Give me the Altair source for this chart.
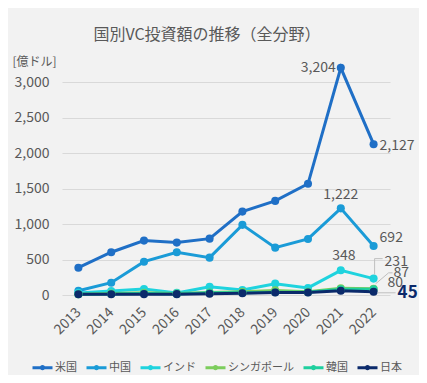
import altair as alt
import pandas as pd

years = ["2013", "2014", "2015", "2016", "2017", "2018", "2019", "2020", "2021", "2022"]
countries = ["米国", "中国", "インド", "シンガポール", "韓国", "日本"]
colors = ["#1f6fc6", "#1a9bd7", "#1fd3de", "#7ccd5c", "#1fcf9e", "#0b2a6b"]

us = [385, 603, 767, 739, 795, 1176, 1327, 1568, 3204, 2127]
china = [61, 174, 470, 603, 527, 989, 668, 791, 1222, 692]
india = [30, 55, 85, 30, 117, 70, 160, 100, 348, 231]
singapore = [10, 20, 30, 20, 35, 45, 65, 45, 95, 87]
korea = [10, 15, 20, 15, 30, 30, 40, 40, 80, 80]
japan = [10, 10, 12, 12, 18, 25, 35, 35, 60, 45]

series = [us, china, india, singapore, korea, japan]
rows = []
for c, vals in zip(countries, series):
    for y, v in zip(years, vals):
        rows.append({"country": c, "year": y, "value": v})
df = pd.DataFrame(rows)

FONT = "Noto Sans CJK JP"
GREY = "#595959"
LEAD = "#bfbfbf"

x = alt.X("year:N", sort=years, title=None,
          scale=alt.Scale(type="point", padding=0.5),
          axis=alt.Axis(labelAngle=-45, labelAlign="right", labelBaseline="middle",
                        labelPadding=15, labelFontSize=14, labelColor=GREY, labelFont=FONT,
                        domain=False, ticks=False, grid=False))
y = alt.Y("value:Q", scale=alt.Scale(domain=[0, 3300], nice=False),
          axis=alt.Axis(values=[0, 500, 1000, 1500, 2000, 2500, 3000], format=",.0f",
                        labelFontSize=14, labelColor=GREY, labelFont=FONT, labelPadding=13,
                        domain=False, ticks=False, gridColor="#d9d9d9",
                        title="[億ドル]", titleAngle=0, titleAlign="left", titleBaseline="middle",
                        titleX=-50, titleY=0, titleFontSize=12, titleFontWeight="normal",
                        titleColor=GREY, titleFont=FONT))
x2 = alt.X2("year:N")
y2 = alt.Y2("value:Q")

legend = alt.Legend(orient="none", legendX=-31, legendY=295, direction="horizontal",
                    title=None, labelFontSize=11, labelColor=GREY, labelFont=FONT,
                    symbolType="M-1,0L1,0M-0.12,0A0.12,0.12,0,1,0,0.12,0A0.12,0.12,0,1,0,-0.12,0",
                    symbolSize=400, symbolStrokeWidth=3, labelOffset=1, columnPadding=3)

color = alt.Color("country:N", sort=countries,
                  scale=alt.Scale(domain=countries, range=colors), legend=legend)

base = alt.Chart(df)
lines = base.mark_line(strokeWidth=3, point=alt.OverlayMarkDef(size=65, filled=True, opacity=1)).encode(
    x=x, y=y, color=color, order=alt.Order("year:N"))

def lab(country, year, dx, dy, align="left", size=14, col=GREY, weight="normal"):
    return base.transform_filter(
        (alt.datum.country == country) & (alt.datum.year == year)
    ).mark_text(dx=dx, dy=dy, align=align, baseline="middle", fontSize=size,
                color=col, font=FONT, fontWeight=weight).encode(
        x=x, y=y, text=alt.Text("value:Q", format=",.0f"))

labels = [
    lab("米国", "2021", -5, 0, "right"),
    lab("米国", "2022", 6, 2, "left"),
    lab("中国", "2021", 0, -13, "center"),
    lab("中国", "2022", 6, -8, "left"),
    lab("インド", "2021", 3, -14, "center"),
    lab("インド", "2022", 11, -17, "left"),
    lab("シンガポール", "2022", 20, -16, "left"),
    lab("韓国", "2022", 14, -6, "left"),
    lab("日本", "2022", 24, 1, "left", 17, "#0b2a6b", "bold"),
]

def leader(country, xo, x2o, yo, y2o):
    return base.transform_filter(
        (alt.datum.country == country) & (alt.datum.year == "2022")
    ).mark_rule(color=LEAD, strokeWidth=1, xOffset=xo, x2Offset=x2o, yOffset=yo, y2Offset=y2o).encode(
        x=x, x2=x2, y=y, y2=y2)

leaders = [
    leader("インド", 1, 1, -4, -20),
    leader("インド", 1, 9, -20, -20),
    leader("シンガポール", 2, 15, -5, -16),
    leader("シンガポール", 15, 19, -16, -16),
    leader("日本", 4, 22, 1, 1),
]

chart = alt.layer(lines, *leaders, *labels).properties(
    width=328, height=234,
    autosize=alt.AutoSizeParams(type="none"),
    padding={"left": 54, "top": 53, "right": 29, "bottom": 80},
    background="#f2f2f2",
    title=alt.TitleParams("国別VC投資額の推移（全分野）", fontSize=16, font=FONT, color=GREY,
                          fontWeight="normal", anchor="middle", dx=-19, offset=12),
).configure_view(stroke=None)

chart.save("out.html", embed_options={"renderer": "svg", "actions": False})
